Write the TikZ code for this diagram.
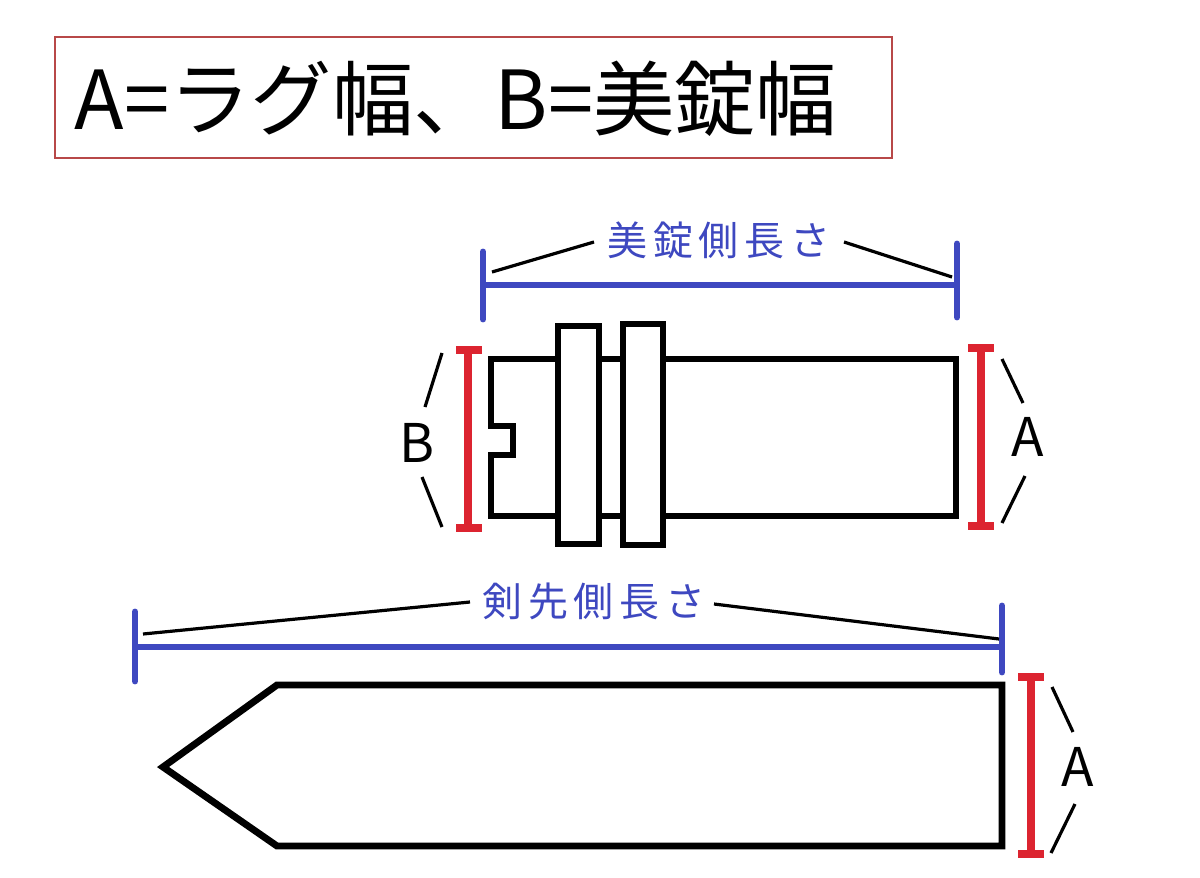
\documentclass[tikz,border=0pt]{standalone}
\usepackage{fontspec}
\newfontfamily\jp{Noto Sans CJK JP}
\newfontfamily\jpspaced[LetterSpace=14]{Noto Sans CJK JP}
\definecolor{dimblue}{RGB}{62,72,192}
\definecolor{dimred}{RGB}{220,36,48}
\definecolor{boxred}{RGB}{184,72,72}
\tikzset{
  outline/.style={draw=black,line width=5.2pt,line join=miter},
  bluebar/.style={draw=dimblue,line width=5.2pt,line cap=round},
  redbar/.style={draw=dimred,line width=5.6pt},
  leader/.style={draw=black,line width=2.4pt},
  bluelabel/.style={inner sep=0pt,text=dimblue,font=\jpspaced\fontsize{30}{32}\selectfont},
  letter/.style={inner sep=0pt,text=black,font=\jp\fontsize{40}{44}\selectfont},
}
\begin{document}
\begin{tikzpicture}[x=0.75pt,y=-0.75pt]
\useasboundingbox (0,0) rectangle (1200,878);
\fill[white] (0,0) rectangle (1200,878);

% title
\draw[boxred,line width=1.2pt] (55,37) rectangle (892,158);
\node[inner sep=0pt,font=\jp\fontsize{61}{64}\selectfont] (title) at (456,99) {A=ラグ幅、B=美錠幅};

% buckle body
\draw[outline] (491,359) -- (956,359) -- (956,516) -- (491,516) -- (491,455) -- (513,455) -- (513,426) -- (491,426) -- cycle;
\draw[outline,fill=white] (558,326) rectangle (599,544);
\draw[outline,fill=white] (623,324) rectangle (663,545);

% upper blue dimension
\draw[bluebar] (483,252) -- (483,319);
\draw[bluebar] (957,244) -- (957,317);
\draw[bluebar,line cap=butt] (483,285) -- (957,285);
\node[bluelabel] (lab1) at (719,240) {美錠側長さ};
\coordinate (l1a) at (492,272);
\coordinate (l1b) at (952,277);
\draw[leader] (l1a) -- (594,242);
\draw[leader] (844,242) -- (l1b);

% B dimension (left)
\draw[redbar] (468,350) -- (468,528);
\draw[redbar] (456,350) -- (482,350);
\draw[redbar] (456,528) -- (482,528);
\node[letter] (B) at (417,443) {B};
\draw[leader] (442,353) -- (425,407);
\draw[leader] (422,477) -- (442,527);

% A dimension (upper right)
\draw[redbar] (981,348) -- (981,526);
\draw[redbar] (968,348) -- (994,348);
\draw[redbar] (968,526) -- (994,526);
\node[letter] (A1) at (1028,437) {A};
\draw[leader] (1002,359) -- (1023,403);
\draw[leader] (1025,476) -- (1002,523);

% strap
\draw[outline] (163,767) -- (277,685) -- (1002,685) -- (1002,846) -- (277,846) -- cycle;

% lower blue dimension
\draw[bluebar] (135,612) -- (135,681);
\draw[bluebar] (1002,606) -- (1002,672);
\draw[bluebar,line cap=butt] (135,647) -- (1002,647);
\node[bluelabel] (lab2) at (594,601) {剣先側長さ};
\draw[leader] (143,634) -- (470,602);
\draw[leader] (714,604) -- (999,639);

% A dimension (lower right)
\draw[redbar] (1031,677) -- (1031,854);
\draw[redbar] (1018,677) -- (1044,677);
\draw[redbar] (1018,854) -- (1044,854);
\node[letter] (A2) at (1078,767) {A};
\draw[leader] (1052,687) -- (1073,732);
\draw[leader] (1075,804) -- (1051,853);
\end{tikzpicture}
\end{document}
